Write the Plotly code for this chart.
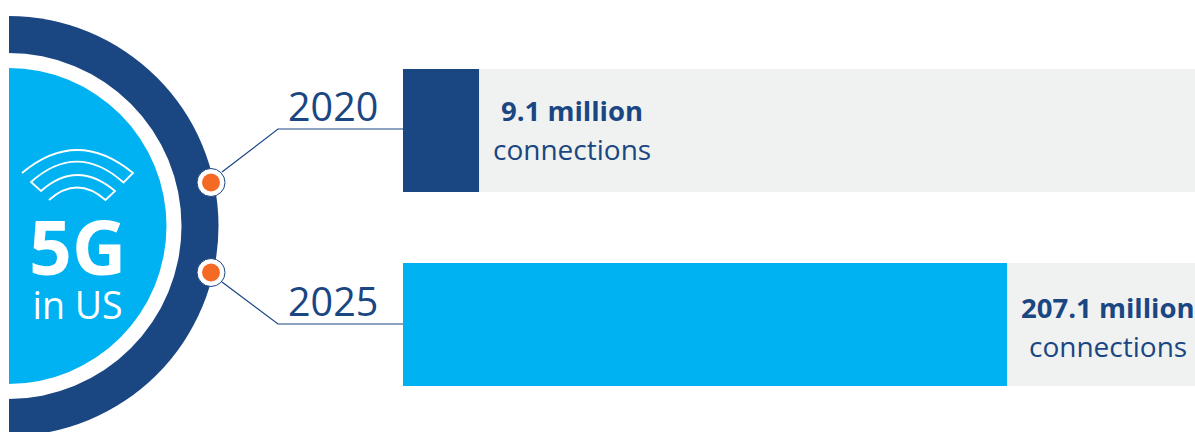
import plotly.graph_objects as go

years = ["2020", "2025"]
connections = [9.1, 207.1]
scale_limit = [630, 630]
bar_colors = ["#1a4682", "#00b2f2"]

NAVY = "#1a4682"
CYAN = "#00b2f2"
TRACK = "#f0f2f2"
ORANGE = "#f46a25"
FONT = "Open Sans"

fig = go.Figure()

# Grey tracks behind the value bars, on a logarithmic scale
fig.add_trace(go.Bar(y=years, x=scale_limit, orientation="h", marker=dict(color=TRACK, line_width=0),
                     width=0.634, hoverinfo="skip", xaxis="x", yaxis="y"))
fig.add_trace(go.Bar(y=years, x=connections, orientation="h", marker=dict(color=bar_colors, line_width=0),
                     width=0.634, xaxis="x", yaxis="y"))


def circle(cx, cy, r, fill, line=None, lw=0):
    return dict(type="circle", xref="x2", yref="y2", x0=cx - r, x1=cx + r, y0=cy - r, y1=cy + r,
                fillcolor=fill, line=dict(color=line or fill, width=lw), layer="above")


def path(d, color=NAVY, width=1.2):
    return dict(type="path", xref="x2", yref="y2", path=d, line=dict(color=color, width=width), layer="above")


shapes = [
    # Concentric badge, cut off on its left side
    circle(8.5, 226, 210, NAVY),
    circle(8.5, 226, 173, "#ffffff"),
    circle(8.5, 226, 158, CYAN),
    dict(type="rect", xref="x2", yref="y2", x0=-5, x1=9, y0=-5, y1=437, fillcolor="#ffffff",
         line_width=0, layer="above"),
    # Leader lines from the badge to the bars
    path("M 222 172 L 278 129 L 403 129"),
    path("M 222 282 L 278 324 L 403 324"),
    # Timeline markers on the badge rim
    circle(211, 182.5, 14, "#ffffff", NAVY, 1),
    circle(211, 182.5, 9, ORANGE),
    circle(211, 272.5, 14, "#ffffff", NAVY, 1),
    circle(211, 272.5, 9, ORANGE),
    # Signal glyph drawn as one zigzag stroke
    path("M 22 173 Q 77 127 133 173 L 123.5 182.5 Q 77 141 31 182 L 41 191 Q 77 159 115 191 "
         "L 105.5 200 Q 77 175 49 200", "#ffffff", 1.8),
]


def label(text, x, y, size, color=NAVY, bold=False):
    return dict(text=f"<b>{text}</b>" if bold else text, xref="x2", yref="y2", x=x, y=y, showarrow=False,
                xanchor="center", yanchor="middle", font=dict(family=FONT, size=size, color=color))


badge_text = ('<span style="font-size:75px"><b>5G</b></span><br>'
              '<span style="font-size:37.5px">in US</span>')

annotations = [
    label(badge_text, 77, 262, 34, "#ffffff"),
    label(years[0], 333, 105.5, 39.5),
    label(years[1], 333, 300.5, 39.5),
    label(f"{connections[0]} million", 572, 110, 27.5, bold=True),
    label("connections", 572, 148.5, 28),
    label(f"{connections[1]} million", 1108, 307, 27.5, bold=True),
    label("connections", 1108, 345.5, 28),
]

fig.update_layout(
    width=1195, height=432, autosize=False,
    margin=dict(l=0, r=0, t=0, b=0),
    paper_bgcolor="#ffffff", plot_bgcolor="rgba(0,0,0,0)",
    barmode="overlay", showlegend=False,
    xaxis=dict(type="log", domain=[403 / 1195, 1], range=[0.7636, 2.7994], visible=False, fixedrange=True),
    yaxis=dict(type="category", domain=[0, 1], range=[1.5541, -0.6727], visible=False, fixedrange=True),
    xaxis2=dict(domain=[0, 1], range=[0, 1195], visible=False, anchor="y2", fixedrange=True),
    yaxis2=dict(domain=[0, 1], range=[432, 0], visible=False, anchor="x2", fixedrange=True),
    shapes=shapes, annotations=annotations,
)

fig.write_html("out.html", config=dict(displayModeBar=False))
